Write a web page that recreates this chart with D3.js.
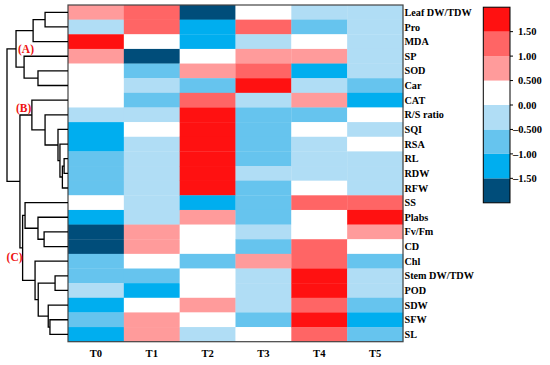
<!DOCTYPE html>
<html>
<head>
<meta charset="utf-8">
<script src="https://cdn.jsdelivr.net/npm/d3@7"></script>
<style>
  html, body { margin: 0; padding: 0; background: #fff; }
  svg { display: block; }
  text { font-family: "Liberation Serif", "Times New Roman", serif; font-weight: bold; fill: #000; }
</style>
</head>
<body>
<svg id="chart" width="550" height="365"></svg>
<script>
// ---------- DATA ----------
const features = ["Leaf DW/TDW","Pro","MDA","SP","SOD","Car","CAT","R/S ratio","SQI","RSA","RL","RDW","RFW",
  "SS","Plabs","Fv/Fm","CD","Chl","Stem DW/TDW","POD","SDW","SFW","SL"];
const treatments = ["T0","T1","T2","T3","T4","T5"];

// z-scores per treatment (one value per feature, same order as features)
const T0 = [0.72,-0.28,1.82,0.70,0.22,0.18,0.25,-0.22,-1.22,-1.26,-0.78,-0.74,-0.80,0.20,-1.20,-1.78,-1.74,-0.72,-0.76,-0.30,-1.24,-0.78,-1.22];
const T1 = [1.24,1.28,0.24,-1.76,-0.76,-0.26,-0.74,-0.22,0.24,-0.28,-0.30,-0.26,-0.24,-0.28,-0.30,0.74,0.72,0.22,-0.78,-1.24,0.20,0.76,0.70];
const T2 = [-1.80,-1.22,-1.26,0.22,0.74,-0.72,1.26,1.84,1.86,1.82,1.80,1.78,1.82,-1.24,0.72,0.24,0.20,-0.76,0.22,0.26,0.74,0.20,-0.26];
const T3 = [0.24,1.26,-0.28,0.72,1.22,1.80,-0.26,-0.78,-0.76,-0.80,-0.74,-0.28,-0.76,-0.78,-0.74,-0.30,-0.76,0.76,-0.24,-0.28,-0.26,-0.78,0.22];
const T4 = [-0.24,-0.76,0.22,0.74,-1.22,-0.26,0.70,-0.72,0.24,-0.26,-0.28,-0.24,0.20,1.24,0.22,0.26,1.26,1.22,1.82,1.86,1.24,1.80,1.28];
const T5 = [-0.26,-0.28,-0.24,-0.30,-0.26,-0.74,-1.24,0.22,-0.28,0.24,-0.26,-0.30,-0.28,1.22,1.84,0.74,0.20,-0.76,-0.24,-0.26,-0.74,-1.26,-0.78];

const colorSteps = ["#004d7a","#00aeef","#66c4ee","#b0ddf5","#ffffff","#ff9b9b","#ff6565","#ff1111"];
const thresholds = [-1.5,-1,-0.5,0,0.5,1,1.5];
const tickValues = [1.5,1,0.5,0,-0.5,-1,-1.5];
const tickLabels = ["1.50","1.00","0.500","0.00","\u20130.500","\u20131.00","\u20131.50"];

// row dendrogram merges: [childA, childB, height]
const merges = [
  ["Leaf DW/TDW","Pro",9.4],   // m0
  ["m0","MDA",14.3],           // m1
  ["SOD","Car",12.3],          // m2
  ["SP","m2",18.0],            // m3
  ["m1","m3",21.3],            // m4  (A)
  ["RL","RDW",1.6],            // m5
  ["m5","RFW",2.3],            // m6
  ["RSA","m6",3.3],            // m7
  ["SQI","m7",4.1],            // m8
  ["R/S ratio","m8",9.4],      // m9
  ["CAT","m9",14.8],           // m10 (B)
  ["Fv/Fm","CD",9.8],          // m11
  ["Plabs","m11",12.3],        // m12
  ["SS","m12",17.6],           // m13
  ["Stem DW/TDW","POD",5.3],   // m14
  ["SFW","SL",7.4],            // m15
  ["SDW","m15",8.1],           // m16
  ["m14","m16",12.2],          // m17
  ["Chl","m17",13.5],          // m18
  ["m13","m18",18.6],          // m19 (C)
  ["m10","m19",19.7],          // m20
  ["m4","m20",25.0]            // m21 root
];
const clusterLabels = [["(A)","m4"],["(B)","m10"],["(C)","m19"]];

// ---------- DRAW ----------
const svg = d3.select("#chart");
const cols = [T0,T1,T2,T3,T4,T5];

const x = d3.scaleBand().domain(treatments).range([68, 403]);
const y = d3.scaleBand().domain(features).range([5, 341.7]);
const color = d3.scaleThreshold().domain(thresholds).range(colorSteps);

const cells = [];
treatments.forEach((t, ci) => features.forEach((f, ri) => cells.push({t, f, v: cols[ci][ri]})));

svg.append("g").selectAll("rect").data(cells).join("rect")
  .attr("x", d => x(d.t))
  .attr("y", d => y(d.f))
  .attr("width", x.bandwidth() + 0.3)
  .attr("height", y.bandwidth() + 0.3)
  .attr("fill", d => color(d.v));

svg.append("rect")
  .attr("x", 68).attr("y", 5)
  .attr("width", 403 - 68).attr("height", 341.7 - 5)
  .attr("fill", "none").attr("stroke", "#444").attr("stroke-width", 1.2);

// row labels
svg.append("g").selectAll("text").data(features).join("text")
  .attr("x", 404.5)
  .attr("y", d => y(d) + y.bandwidth() / 2)
  .attr("dy", "0.35em")
  .attr("font-size", "10.2px")
  .text(d => d);

// column labels
svg.append("g").selectAll("text").data(treatments).join("text")
  .attr("x", d => x(d) + x.bandwidth() / 2)
  .attr("y", 357.3)
  .attr("text-anchor", "middle")
  .attr("font-size", "10.6px")
  .text(d => d);

// dendrogram
const hx = d3.scaleLinear().domain([0, 25]).range([68, 7]);
const nodes = {};
features.forEach(f => nodes[f] = {x: 68, y: y(f) + y.bandwidth() / 2});
const dg = svg.append("g").attr("stroke", "#000").attr("stroke-width", 1.3).attr("fill", "none");
merges.forEach((m, i) => {
  const a = nodes[m[0]], b = nodes[m[1]];
  const nx = hx(m[2]);
  const path = d3.path();
  path.moveTo(a.x, a.y); path.lineTo(nx, a.y); path.lineTo(nx, b.y); path.lineTo(b.x, b.y);
  dg.append("path").attr("d", path.toString());
  nodes["m" + i] = {x: nx, y: (a.y + b.y) / 2};
});

// cluster labels
const labOffsets = {"(A)": [2, 4], "(B)": [-16, -3], "(C)": [-16, 13]};
svg.append("g").selectAll("text").data(clusterLabels).join("text")
  .attr("x", d => nodes[d[1]].x + labOffsets[d[0]][0])
  .attr("y", d => nodes[d[1]].y + labOffsets[d[0]][1])
  .attr("font-size", "11.5px")
  .style("fill", "#ee1111")
  .text(d => d[0]);

// color legend
const ly = d3.scaleLinear().domain([-2, 2]).range([202.8, 7.2]);
const bounds = [-2, ...thresholds, 2];
const lg = svg.append("g");
lg.selectAll("rect").data(colorSteps).join("rect")
  .attr("x", 483.3)
  .attr("y", (d, i) => ly(bounds[i + 1]))
  .attr("width", 26.7)
  .attr("height", (d, i) => ly(bounds[i]) - ly(bounds[i + 1]))
  .attr("fill", d => d);
lg.append("rect")
  .attr("x", 483.3).attr("y", ly(2))
  .attr("width", 26.7).attr("height", ly(-2) - ly(2))
  .attr("fill", "none").attr("stroke", "#000").attr("stroke-width", 1);
lg.selectAll("line").data(tickValues).join("line")
  .attr("x1", 510).attr("x2", 513)
  .attr("y1", d => ly(d)).attr("y2", d => ly(d))
  .attr("stroke", "#000").attr("stroke-width", 1);
lg.selectAll("text").data(tickValues).join("text")
  .attr("x", d => d >= 0 ? 518 : 513)
  .attr("y", d => ly(d))
  .attr("dy", "0.35em")
  .attr("font-size", "10.5px")
  .text((d, i) => tickLabels[i]);
</script>
</body>
</html>
